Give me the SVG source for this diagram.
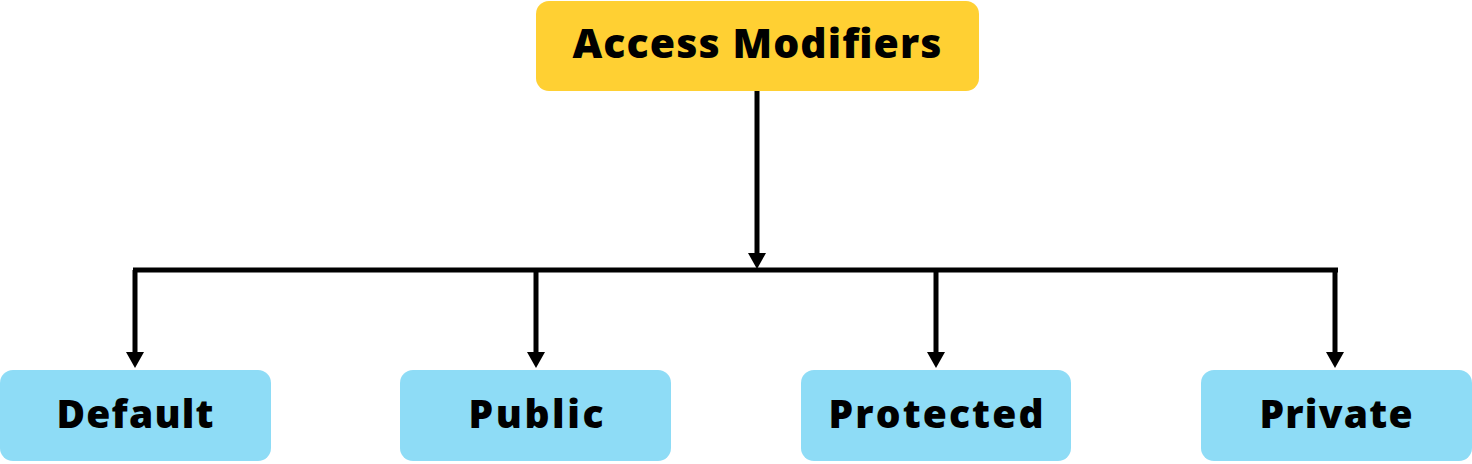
<svg xmlns="http://www.w3.org/2000/svg" width="1472" height="464" viewBox="0 0 1472 464">
<defs>
<style>
.top{fill:#FFD033}
.leaf{fill:#8EDCF6}
.t{font-family:"Open Sans","Liberation Sans",sans-serif;font-weight:800;fill:#000;text-anchor:middle}
.c{stroke:#000;stroke-width:5;fill:none}
</style>
</defs>
<g id="connectors">
<path class="c" d="M757,91 V254"/>
<path d="M748,253 L766,253 L757,269 Z" fill="#000"/>
<path class="c" d="M133,270 H1338"/>
<path class="c" d="M135,270 V354"/>
<path d="M126,352 L144,352 L135,368 Z" fill="#000"/>
<path class="c" d="M536,270 V354"/>
<path d="M527,352 L545,352 L536,368 Z" fill="#000"/>
<path class="c" d="M936,270 V354"/>
<path d="M927,352 L945,352 L936,368 Z" fill="#000"/>
<path class="c" d="M1335,270 V354"/>
<path d="M1326,352 L1344,352 L1335,368 Z" fill="#000"/>
</g>
<g id="access-modifiers">
<rect class="top" x="536" y="1" width="443" height="90" rx="13"/>
<text class="t" x="757" y="58" font-size="41" textLength="369" lengthAdjust="spacing">Access Modifiers</text>
</g>
<g id="default">
<rect class="leaf" x="0" y="370" width="271" height="91" rx="13"/>
<text class="t" x="135" y="428" font-size="39" textLength="157" lengthAdjust="spacing">Default</text>
</g>
<g id="public">
<rect class="leaf" x="400" y="370" width="271" height="91" rx="13"/>
<text class="t" x="536" y="428" font-size="39" textLength="135" lengthAdjust="spacing">Public</text>
</g>
<g id="protected">
<rect class="leaf" x="801" y="370" width="270" height="91" rx="13"/>
<text class="t" x="936" y="428" font-size="39" textLength="215" lengthAdjust="spacing">Protected</text>
</g>
<g id="private">
<rect class="leaf" x="1201" y="370" width="271" height="91" rx="13"/>
<text class="t" x="1336" y="428" font-size="39" textLength="153" lengthAdjust="spacing">Private</text>
</g>
</svg>
